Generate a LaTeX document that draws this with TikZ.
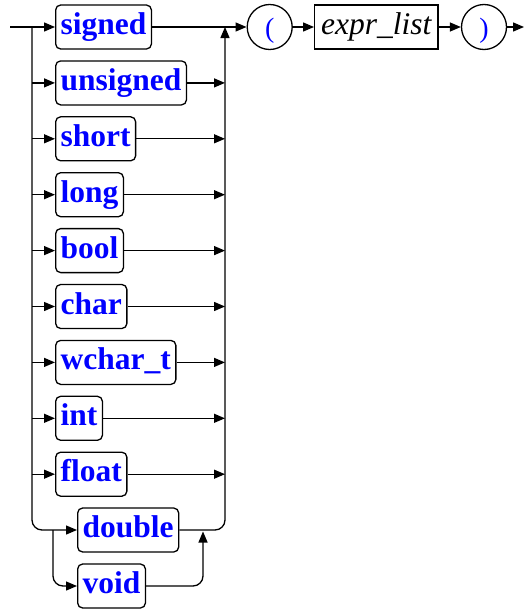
\documentclass[tikz,border=0pt]{standalone}
\usepackage{fontspec}
\setmainfont{Liberation Serif}
\newfontfamily\lsfont{Liberation Serif}
\usetikzlibrary{arrows.meta}
\begin{document}
\begin{tikzpicture}[x=1pt,y=-1pt, line width=1.3pt,
  kw/.style={draw, rounded corners=5pt, anchor=west, minimum height=44pt,
    inner xsep=5pt, inner ysep=0pt, text height=22pt, text depth=7pt,
    font=\lsfont\fontsize{31.5}{36}\selectfont\bfseries, text=blue},
  nt/.style={draw, minimum height=44pt, inner xsep=6.5pt, inner ysep=0pt,
    text height=22pt, text depth=7pt, font=\lsfont\fontsize{31.5}{36}\selectfont\itshape},
  tm/.style={draw, circle, minimum size=45pt, inner sep=0pt, text=blue,
    text height=26pt, text depth=5pt, font=\lsfont\fontsize{28}{32}\selectfont},
  arr/.style={-{Triangle[length=11pt,width=9pt]}},
  rc/.style={rounded corners=10pt}]
\useasboundingbox (0,0) rectangle (526,613);
% rows
\foreach \n/\t [count=\i from 0] in {signed/signed,unsigned/unsigned,short/short,long/long,bool/bool,char/char,wchart/wchar\_t,int/int,float/float}{
  \node[kw] (\n) at (55,{27+55.9*\i}) {\t};
  \coordinate (b\i) at (32,{27+55.9*\i});
  \coordinate (r\i) at (225,{27+55.9*\i});
}
\node[kw] (double) at (77,530) {double};
\node[kw] (void) at (77,586) {void};
\coordinate (start) at (10,27);
\coordinate (vb) at (53,530);
\coordinate (vr) at (203,530);
\node[tm] (lp) at (269.7,27) {(};
\node[nt, anchor=west] (expr) at (314,27) {expr\_list};
\node[tm] (rp) at (484,27) {)};
\coordinate (end) at (524,27);
% main line
\draw[arr] (start) -- (signed.west);
\draw[arr] (signed.east) -- (lp.west);
\draw[arr] (lp.east) -- (expr.west);
\draw[arr] (expr.east) -- (rp.west);
\draw[arr] (rp.east) -- (end);
% branches
\foreach \n [count=\i from 1] in {unsigned,short,long,bool,char,wchart,int,float}{
  \draw[arr] (b\i) -- (\n.west);
  \draw[arr] (\n.east) -- (r\i);
}
\draw[arr, rc] (b0) |- (double.west);
\draw[arr, rc] (vb) |- (void.west);
\draw[arr, rc] (double.east) -| (r0);
\draw[arr, rc, shorten >=1.5pt] (void.east) -| (vr);
\end{tikzpicture}
\end{document}
